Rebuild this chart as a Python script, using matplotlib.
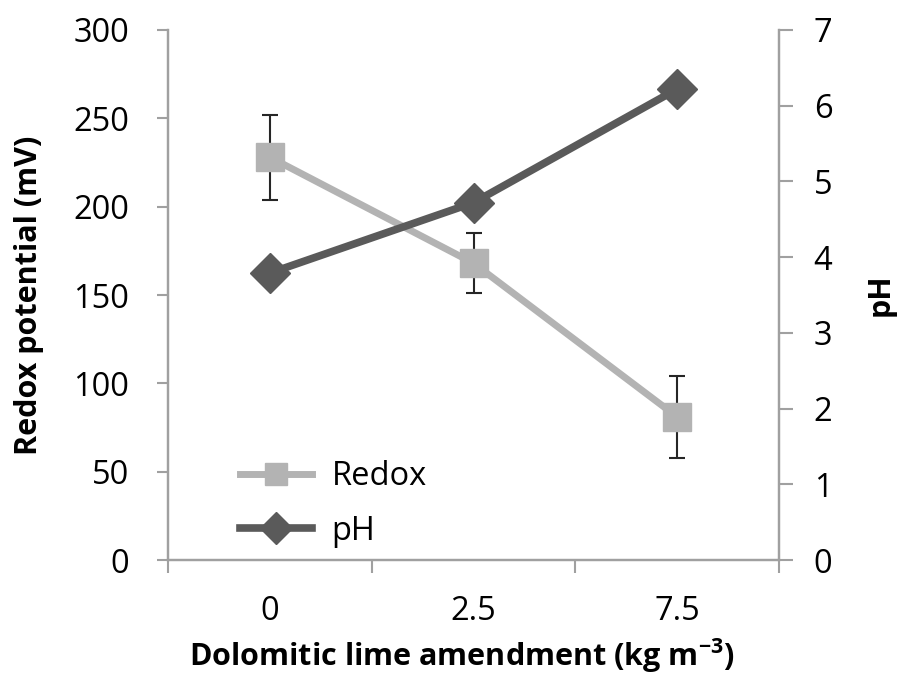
import numpy as np
import matplotlib.pyplot as plt
from matplotlib.lines import Line2D

plt.rcParams['font.family'] = ['Open Sans', 'DejaVu Sans']
plt.rcParams['mathtext.fontset'] = 'custom'
plt.rcParams['mathtext.rm'] = 'Open Sans'
plt.rcParams['mathtext.bf'] = 'Open Sans:bold'

# Data
categories = ['0', '2.5', '7.5']
redox = [228, 168, 81]
redox_err = [24, 17, 23]
ph = [3.79, 4.72, 6.22]

light = '#b3b3b3'
dark = '#5a5a5a'
spine_col = '#a0a0a0'

fig = plt.figure(figsize=(9.01, 6.77), dpi=100)
ax = fig.add_axes([0.1865, 0.1728, 0.6781, 0.7829])
ax2 = ax.twinx()

x = np.arange(len(categories))

ax.plot(x, redox, '-s', color=light, lw=5, ms=20, mfc=light, mec=light, zorder=3)
ax.errorbar(x, redox, yerr=redox_err, fmt='none', ecolor='#262626', elinewidth=1.5,
            capsize=6, capthick=1.5, zorder=2)
ax2.plot(x, ph, '-D', color=dark, lw=5.5, ms=20, mfc=dark, mec=dark, zorder=3)

ax.set_xlim(-0.5, 2.5)
ax.set_ylim(0, 300)
ax2.set_ylim(0, 7)
ax.set_yticks(np.arange(0, 301, 50))
ax2.set_yticks(np.arange(0, 8, 1))

# tick marks on the category boundaries, labels in the middle
ax.set_xticks([-0.5, 0.5, 1.5, 2.5])
ax.set_xticklabels([])
ax.set_xticks(x, minor=True)
ax.set_xticklabels(categories, minor=True)
ax.tick_params(axis='x', which='major', length=9, width=1.5, color=spine_col, direction='out')
ax.tick_params(axis='x', which='minor', length=0, pad=25, labelsize=23.5)

ax.tick_params(axis='y', length=8, width=1.5, color=spine_col, labelsize=23.5, pad=20)
ax2.tick_params(axis='y', length=10, width=1.5, color=spine_col, labelsize=23.5, pad=15)

for a in (ax, ax2):
    a.spines['top'].set_visible(False)
    for s in ('left', 'right', 'bottom'):
        a.spines[s].set_color(spine_col)
        a.spines[s].set_linewidth(1.6)
    a.patch.set_visible(False)

ax.set_ylabel('Redox potential (mV)', fontsize=22, fontweight='bold')
ax.yaxis.set_label_coords(-0.203, 0.5)
ax2.set_ylabel('pH', fontsize=22, fontweight='bold')
ax2.yaxis.set_label_coords(1.142, 0.5)
ax.set_xlabel(r'Dolomitic lime amendment (kg m$^{\mathbf{-3}}$)', fontsize=22,
              fontweight='bold')
ax.xaxis.set_label_coords(0.48, -0.145)

handles = [
    Line2D([], [], color=light, lw=5, marker='s', ms=16, mfc=light, mec=light),
    Line2D([], [], color=dark, lw=5.5, marker='D', ms=16, mfc=dark, mec=dark),
]
ax.legend(handles, ['Redox', 'pH'], loc='upper left', bbox_to_anchor=(0.118, 0.188),
          frameon=False, fontsize=23.5, handlelength=2.2, labelspacing=0.66,
          handletextpad=0.6, borderpad=0, borderaxespad=0)

fig.savefig('out.png', dpi=100)
